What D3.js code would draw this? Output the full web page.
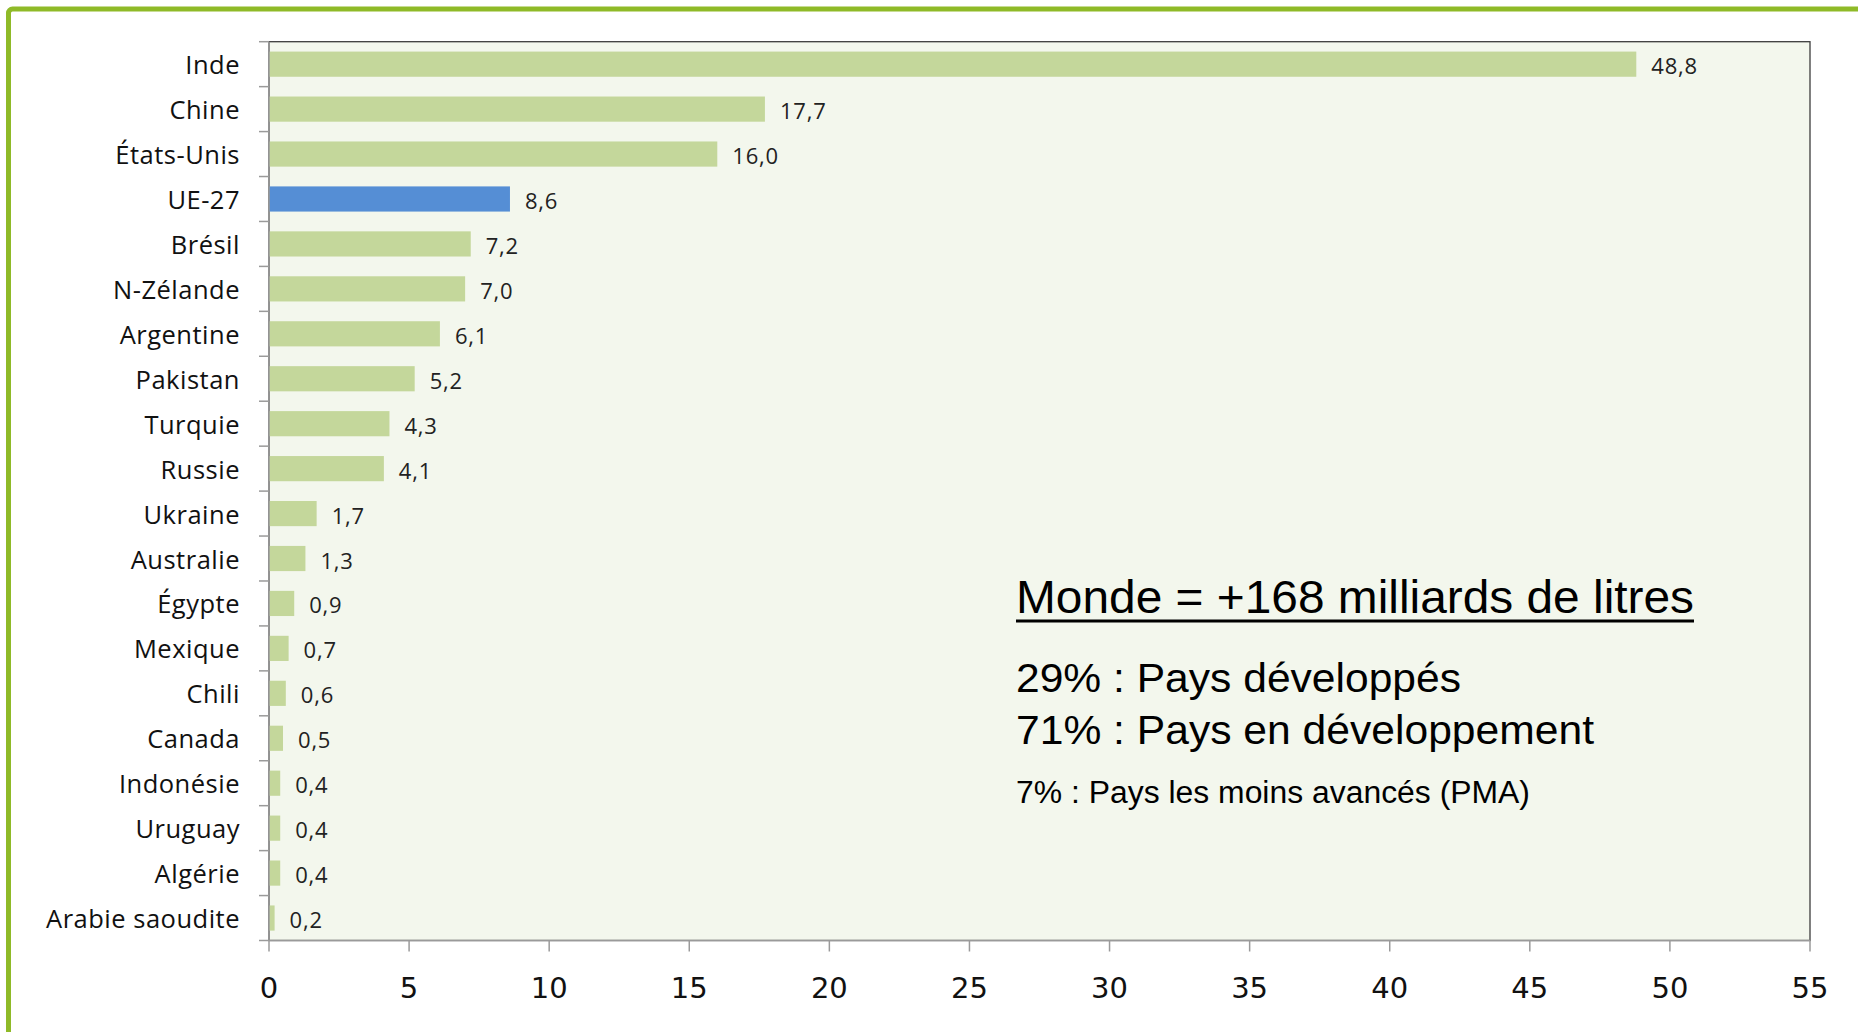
<!DOCTYPE html>
<html><head><meta charset="utf-8">
<script src="https://cdn.jsdelivr.net/npm/d3@7"></script>
<style>html,body{margin:0;padding:0;background:#fff;overflow:hidden}</style>
</head><body>
<svg id="c" width="1858" height="1032"></svg>
<script>
const categories = ["Inde","Chine","États-Unis","UE-27","Brésil","N-Zélande","Argentine","Pakistan","Turquie","Russie","Ukraine","Australie","Égypte","Mexique","Chili","Canada","Indonésie","Uruguay","Algérie","Arabie saoudite"];
const values = [48.8,17.7,16.0,8.6,7.2,7.0,6.1,5.2,4.3,4.1,1.7,1.3,0.9,0.7,0.6,0.5,0.4,0.4,0.4,0.2];
const valueLabels = ["48,8","17,7","16,0","8,6","7,2","7,0","6,1","5,2","4,3","4,1","1,7","1,3","0,9","0,7","0,6","0,5","0,4","0,4","0,4","0,2"];
const highlight = ["UE-27"];
const xTicks = [0,5,10,15,20,25,30,35,40,45,50,55];
const title = "Monde = +168 milliards de litres";
const notes = ["29% : Pays développés","71% : Pays en développement","7% : Pays les moins avancés (PMA)"];

const svg = d3.select("#c");
// green frame
svg.append("rect").attr("x",8.5).attr("y",9).attr("width",1900).attr("height",1100)
  .attr("rx",4).attr("fill","none").attr("stroke","#8fba28").attr("stroke-width",5);

const L=269, R=1810, T=41.7, B=940.5;
const x = d3.scaleLinear().domain([0,55]).range([L,R]);
const y = d3.scaleBand().domain(categories).range([T,B]).paddingInner(0.44).paddingOuter(0.22);

svg.append("rect").attr("x",L).attr("y",T).attr("width",R-L).attr("height",B-T)
  .attr("fill","#f3f7ed").attr("stroke","#3c3c3c").attr("stroke-width",1.3);

svg.append("g").selectAll("rect").data(categories).join("rect")
  .attr("x",x(0)).attr("y",d=>y(d)).attr("height",y.bandwidth())
  .attr("width",(d,i)=>x(values[i])-x(0))
  .attr("fill",d=>highlight.includes(d)?"#558ed5":"#c4d79b");

svg.append("g").selectAll("text").data(categories).join("text")
  .attr("x",(d,i)=>x(values[i])+15).attr("y",d=>y(d)+y.bandwidth()/2+1)
  .attr("dominant-baseline","central")
  .attr("font-family","'Open Sans', Lato, sans-serif").attr("font-size",22).attr("letter-spacing",0.8)
  .attr("fill","#222").text((d,i)=>valueLabels[i]);

// y axis
const band = (B-T)/categories.length;
const yAxis = svg.append("g");
yAxis.append("line").attr("x1",L).attr("x2",L).attr("y1",T).attr("y2",B).attr("stroke","#9a9a9a").attr("stroke-width",1.5);
yAxis.selectAll("line.t").data(d3.range(categories.length+1)).join("line").attr("class","t")
  .attr("x1",L-10).attr("x2",L).attr("y1",i=>T+i*band).attr("y2",i=>T+i*band)
  .attr("stroke","#9a9a9a").attr("stroke-width",1.5);
yAxis.selectAll("text").data(categories).join("text")
  .attr("x",240).attr("y",d=>y(d)+y.bandwidth()/2)
  .attr("text-anchor","end").attr("dominant-baseline","central")
  .attr("font-family","'Open Sans', Lato, sans-serif").attr("font-size",25.5).attr("letter-spacing",0.5)
  .attr("fill","#111").text(d=>d);

// x axis
const xAxis = svg.append("g");
xAxis.append("line").attr("x1",L).attr("x2",R).attr("y1",B).attr("y2",B).attr("stroke","#9a9a9a").attr("stroke-width",1.5);
xAxis.selectAll("line.t").data(xTicks).join("line").attr("class","t")
  .attr("x1",d=>x(d)).attr("x2",d=>x(d)).attr("y1",B).attr("y2",B+11)
  .attr("stroke","#9a9a9a").attr("stroke-width",1.5);
xAxis.selectAll("text").data(xTicks).join("text")
  .attr("x",d=>x(d)).attr("y",988).attr("text-anchor","middle").attr("dominant-baseline","central")
  .attr("font-family","'DejaVu Sans', sans-serif").attr("font-size",29)
  .attr("fill","#111").text(d=>d);

// annotation
const narrow = "'Liberation Sans Narrow','Arial Narrow','Liberation Sans',Arial,sans-serif";
svg.append("text").attr("x",1016).attr("y",613).attr("font-family",narrow).attr("font-size",46)
  .attr("textLength",678).attr("lengthAdjust","spacingAndGlyphs").attr("fill","#000").text(title);
svg.append("line").attr("x1",1016).attr("x2",1694).attr("y1",621).attr("y2",621).attr("stroke","#000").attr("stroke-width",3);
const noteY=[692,744,803], noteS=[41,41,31], noteW=[445,578,514];
svg.append("g").selectAll("text").data(notes).join("text")
  .attr("x",1016).attr("y",(d,i)=>noteY[i]).attr("font-family",narrow).attr("font-size",(d,i)=>noteS[i])
  .attr("textLength",(d,i)=>noteW[i]).attr("lengthAdjust","spacingAndGlyphs").attr("fill","#000").text(d=>d);
</script>
</body></html>
